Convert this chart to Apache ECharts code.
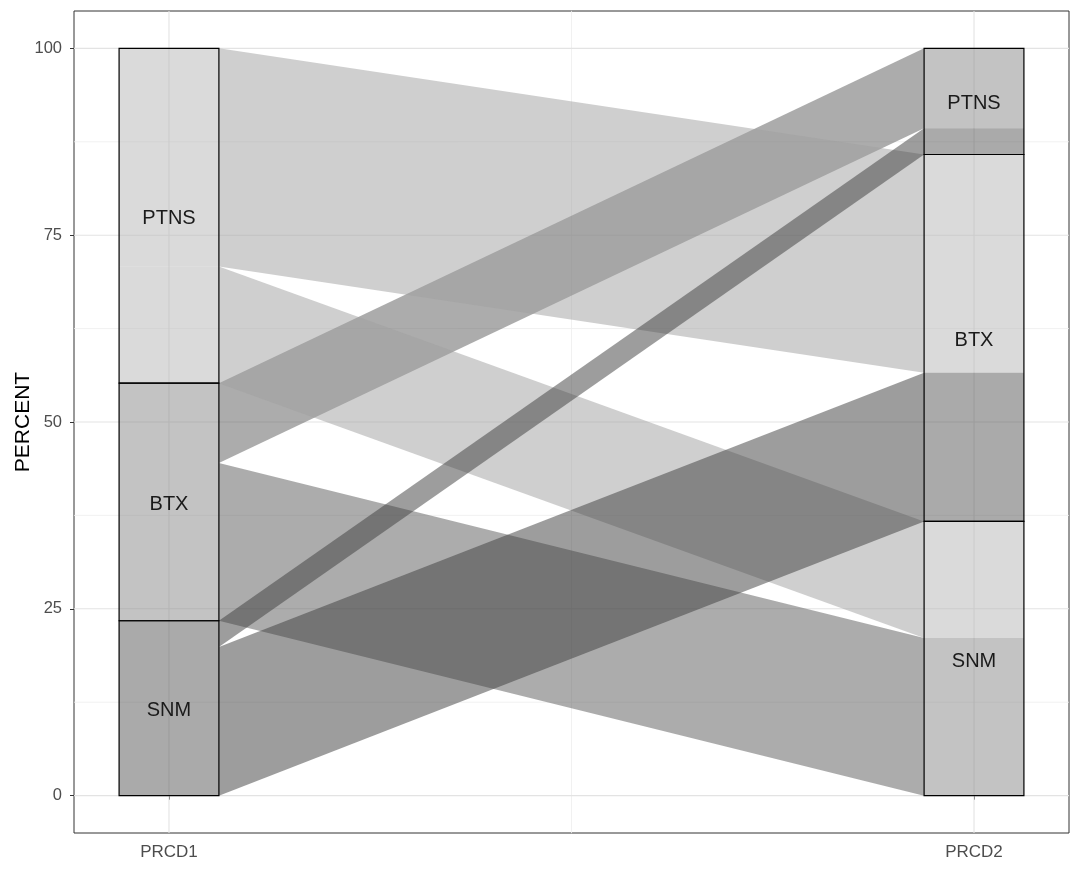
<!DOCTYPE html>
<html>
<head>
<meta charset="utf-8">
<script src="https://cdn.jsdelivr.net/npm/echarts@6/dist/echarts.min.js"></script>
<style>
html,body{margin:0;padding:0;background:#fff;}
#chart{width:1080px;height:872px;}
</style>
</head>
<body>
<div id="chart"></div>
<script>
// ---- data ----
const axesNames = ['PRCD1', 'PRCD2'];
const strata = ['PTNS', 'BTX', 'SNM'];          // stacking order, top to bottom
const flowFrom = ['PTNS', 'PTNS', 'BTX', 'BTX', 'SNM', 'SNM'];
const flowTo   = ['BTX', 'SNM', 'PTNS', 'SNM', 'PTNS', 'BTX'];
const flowValue = [29.2, 15.6, 10.7, 21.1, 3.5, 19.9];
const yTicks = [0, 25, 50, 75, 100];
const yMinor = [12.5, 37.5, 62.5, 87.5];
const xTicks = [1, 2];
const xMinor = [1.5];

// ---- styles ----
const flowColor = { PTNS: 'rgba(160,160,160,0.5)', BTX: 'rgba(89,89,89,0.5)', SNM: 'rgba(59,59,59,0.5)' };
const flowLayer = { BTX: 0, PTNS: 1, SNM: 2 };   // drawing order of flows
const lodeColor = { PTNS: 'rgba(181,181,181,0.5)', BTX: 'rgba(135,135,135,0.5)', SNM: 'rgba(85,85,85,0.5)' };
const W = 0.124; // stratum width in axis units
const FONT = '"Liberation Sans", Arial, sans-serif';

// ---- derived stacking ----
const idx = s => strata.indexOf(s);
const order = flowValue.map((v, i) => i);
const leftOrder = order.slice().sort((a, b) => idx(flowFrom[a]) - idx(flowFrom[b]) || idx(flowTo[a]) - idx(flowTo[b]));
const rightOrder = order.slice().sort((a, b) => idx(flowTo[a]) - idx(flowTo[b]) || idx(flowFrom[a]) - idx(flowFrom[b]));
const total = flowValue.reduce((a, b) => a + b, 0);
const leftPos = {}, rightPos = {};
let cur = total;
leftOrder.forEach(i => { leftPos[i] = [cur, cur - flowValue[i]]; cur -= flowValue[i]; });
cur = total;
rightOrder.forEach(i => { rightPos[i] = [cur, cur - flowValue[i]]; cur -= flowValue[i]; });

function strataRanges(key) {
  const res = [];
  let c = total;
  strata.forEach(s => {
    let sum = 0;
    flowValue.forEach((v, i) => { if ((key === 'from' ? flowFrom[i] : flowTo[i]) === s) sum += v; });
    res.push([s, c, c - sum]);
    c -= sum;
  });
  return res;
}
const leftStrata = strataRanges('from');
const rightStrata = strataRanges('to');

// flow data: [x0, x1, top0, bot0, top1, bot1, colorKey]
const drawOrder = order.slice().sort((a, b) => flowLayer[flowFrom[a]] - flowLayer[flowFrom[b]] || a - b);
const flowData = drawOrder.map(i => [1 + W / 2, 2 - W / 2, leftPos[i][0], leftPos[i][1], rightPos[i][0], rightPos[i][1], flowFrom[i]]);
// lodes: [x, top, bot, colorKey]
const lodeData = [];
order.forEach(i => {
  lodeData.push([1, leftPos[i][0], leftPos[i][1], flowFrom[i]]);
  lodeData.push([2, rightPos[i][0], rightPos[i][1], flowFrom[i]]);
});
// strata boxes: [x, top, bot, label]
const strataData = leftStrata.map(r => [1, r[1], r[2], r[0]]).concat(rightStrata.map(r => [2, r[1], r[2], r[0]]));

// grid lines: [orient, value, major]
const gridData = []
  .concat(yMinor.map(v => ['h', v, 0]))
  .concat(xMinor.map(v => ['v', v, 0]))
  .concat(yTicks.map(v => ['h', v, 1]))
  .concat(xTicks.map(v => ['v', v, 1]));

const XMIN = 0.882, XMAX = 2.118, YMIN = -5, YMAX = 105;

const chart = echarts.init(document.getElementById('chart'), null, { renderer: 'canvas' });
chart.setOption({
  animation: false,
  backgroundColor: '#ffffff',
  grid: { left: 74, right: 11, top: 11, bottom: 39, outerBoundsMode: 'none', containLabel: false,
    show: true, borderColor: '#333333', borderWidth: 1, backgroundColor: 'transparent' },
  xAxis: {
    type: 'value', min: XMIN, max: XMAX,
    axisLine: { show: false },
    splitLine: { show: false },
    axisTick: { show: true, customValues: xTicks, length: 4, lineStyle: { color: '#333333' } },
    axisLabel: { customValues: xTicks, color: '#4d4d4d', fontSize: 17, fontFamily: FONT, margin: 11,
      formatter: v => axesNames[Math.round(v) - 1] || '' }
  },
  yAxis: {
    type: 'value', min: YMIN, max: YMAX,
    name: 'PERCENT', nameLocation: 'middle', nameGap: 40, nameMoveOverlap: false,
    nameTextStyle: { color: '#000000', fontSize: 21, fontFamily: FONT },
    axisLine: { show: false },
    splitLine: { show: false },
    axisTick: { show: true, customValues: yTicks, length: 4, lineStyle: { color: '#333333' } },
    axisLabel: { customValues: yTicks, color: '#4d4d4d', fontSize: 16.5, fontFamily: FONT, margin: 12 }
  },
  series: [
    {
      type: 'custom', name: 'grid', z: 1, silent: true,
      data: gridData,
      renderItem: (params, api) => {
        const d = gridData[params.dataIndex];
        let p1, p2;
        if (d[0] === 'h') { p1 = api.coord([XMIN, d[1]]); p2 = api.coord([XMAX, d[1]]); }
        else { p1 = api.coord([d[1], YMIN]); p2 = api.coord([d[1], YMAX]); }
        return { type: 'line', shape: { x1: p1[0], y1: p1[1], x2: p2[0], y2: p2[1] },
          style: { stroke: d[2] ? '#e3e3e3' : '#eeeeee', lineWidth: d[2] ? 1.1 : 0.8 } };
      }
    },
    {
      type: 'custom', name: 'flows', z: 2, silent: true,
      data: flowData,
      renderItem: (params, api) => {
        const d = flowData[params.dataIndex];
        const a = api.coord([d[0], d[2]]), b = api.coord([d[1], d[4]]), c = api.coord([d[1], d[5]]), e = api.coord([d[0], d[3]]);
        return { type: 'polygon', shape: { points: [a, b, c, e] }, style: { fill: flowColor[d[6]] } };
      }
    },
    {
      type: 'custom', name: 'lodes', z: 3, silent: true,
      data: lodeData,
      renderItem: (params, api) => {
        const d = lodeData[params.dataIndex];
        const p1 = api.coord([d[0] - W / 2, d[1]]), p2 = api.coord([d[0] + W / 2, d[2]]);
        return { type: 'rect', shape: { x: p1[0], y: p1[1], width: p2[0] - p1[0], height: p2[1] - p1[1] }, style: { fill: lodeColor[d[3]] } };
      }
    },
    {
      type: 'custom', name: 'strata', z: 4, silent: true,
      data: strataData,
      renderItem: (params, api) => {
        const d = strataData[params.dataIndex];
        const p1 = api.coord([d[0] - W / 2, d[1]]), p2 = api.coord([d[0] + W / 2, d[2]]);
        const cx = (p1[0] + p2[0]) / 2, cy = (p1[1] + p2[1]) / 2 + 2.5;
        return { type: 'group', children: [
          { type: 'rect', shape: { x: p1[0], y: p1[1], width: p2[0] - p1[0], height: p2[1] - p1[1] },
            style: { fill: 'none', stroke: '#000000', lineWidth: 1.2 } },
          { type: 'text', x: cx, y: cy, style: { text: d[3], fill: '#1a1a1a', font: '20px ' + FONT, align: 'center', verticalAlign: 'middle' } }
        ] };
      }
    }
  ]
});
</script>
</body>
</html>
